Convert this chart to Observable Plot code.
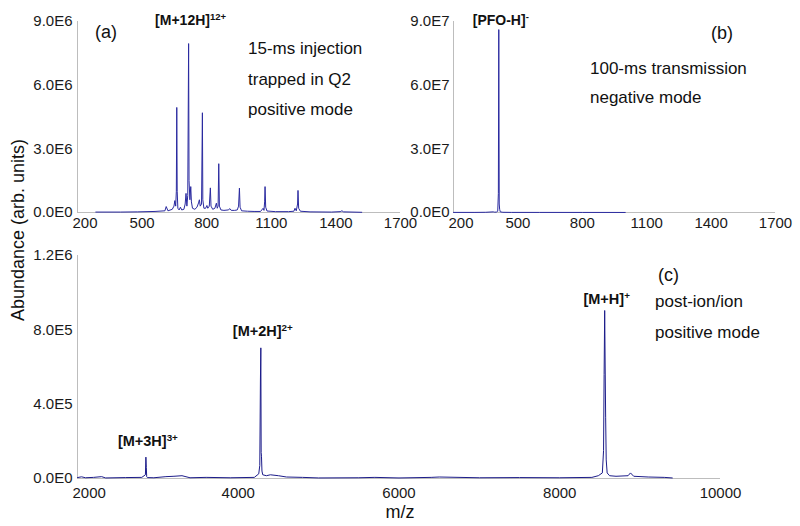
<!DOCTYPE html>
<html><head><meta charset="utf-8">
<script src="https://cdn.jsdelivr.net/npm/d3@7"></script>
<script src="https://cdn.jsdelivr.net/npm/@observablehq/plot@0.6"></script>
<style>
body{margin:0;background:#fff;}
#fig{position:relative;width:800px;height:526px;font-family:"Liberation Sans",Arial,sans-serif;color:#000;overflow:hidden;background:#fff}
.t{position:absolute;white-space:nowrap;line-height:1;font-size:17px;color:#111}
</style></head><body>
<div id="fig"></div>
<script>
// ---------- data ----------
// panel (a): 15-ms injection, positive mode
const mzA = [285,400,480,560,606,612,620,640,648,652,656,659,661,663,666,672,678,684,694,700,704,708,712,716,718,722,726,729,734,745,755,762,766,770,776,780,782,787,795,801,805,812,817,820,828,838,845,849,853,856,859,866,880,900,908,914,930,942,948,952,955,962,990,1020,1050,1062,1066,1069,1071,1074,1080,1120,1180,1205,1210,1216,1222,1224,1227,1235,1280,1380,1420,1428,1436,1520];
const intA = [0.02e6,0.02e6,0.03e6,0.05e6,0.08e6,0.28e6,0.08e6,0.15e6,0.3e6,0.56e6,0.3e6,1.0e6,4.95e6,1.0e6,0.2e6,0.12e6,0.25e6,0.12e6,0.15e6,0.4e6,0.9e6,0.3e6,0.8e6,7.96e6,1.5e6,0.6e6,1.22e6,0.5e6,0.2e6,0.15e6,0.25e6,0.45e6,0.6e6,0.3e6,0.4e6,4.7e6,0.6e6,0.2e6,0.2e6,0.33e6,0.2e6,0.3e6,1.16e6,0.3e6,0.15e6,0.2e6,0.44e6,0.2e6,0.3e6,2.3e6,0.3e6,0.12e6,0.1e6,0.12e6,0.18e6,0.1e6,0.1e6,0.12e6,0.3e6,1.15e6,0.25e6,0.08e6,0.06e6,0.05e6,0.05e6,0.2e6,0.1e6,0.5e6,1.22e6,0.25e6,0.07e6,0.04e6,0.04e6,0.06e6,0.2e6,0.08e6,0.4e6,1.04e6,0.2e6,0.06e6,0.03e6,0.02e6,0.04e6,0.08e6,0.03e6,0.01e6];
const xTicksA = [200,500,800,1100,1400,1700];
const xLabelsA = ["200","500","800","1100","1400","1700"];
const yTicksA = [0,3e6,6e6,9e6];
const yLabelsA = ["0.0E0","3.0E6","6.0E6","9.0E6"];
const peakLabA = ["[M+12H]"], peakSupA = ["12+"], peakXA = [716], peakYA = [9.05e6];

// panel (b): 100-ms transmission, negative mode
const mzB = [200,300,350,385,392,400,406,409,411,413,415,418,430,470,600,800,1000];
const intB = [0.05e6,0.05e6,0.1e6,0.3e6,0.15e6,0.2e6,0.6e6,9e6,86.2e6,4e6,1.5e6,0.3e6,0.1e6,0.05e6,0.04e6,0.03e6,0.02e6];
const xTicksB = [200,500,800,1100,1400,1700];
const xLabelsB = ["200","500","800","1100","1400","1700"];
const yTicksB = [0,3e7,6e7,9e7];
const yLabelsB = ["0.0E0","3.0E7","6.0E7","9.0E7"];
const peakLabB = ["[PFO-H]"], peakSupB = ["-"], peakXB = [411], peakYB = [9.05e7];

// panel (c): post-ion/ion, positive mode
const mzC = [2000,2050,2100,2200,2300,2350,2600,2800,2845,2851,2856,2861,2870,2950,3100,3200,3300,3400,3600,3900,4200,4255,4268,4276,4281,4285,4289,4295,4305,4350,4400,4500,4600,4800,5000,5500,5700,6000,6400,6500,7000,7500,8000,8400,8480,8530,8545,8552,8559,8565,8571,8578,8590,8620,8700,8850,8880,8920,9100,9300,9400];
const intC = [5e3,9e3,4e3,6e3,10e3,3e3,5e3,6e3,20e3,115e3,60e3,10e3,5e3,4e3,10e3,12e3,15e3,4e3,6e3,4e3,6e3,25e3,70e3,530e3,703e3,140e3,120e3,40e3,20e3,15e3,20e3,15e3,8e3,6e3,3e3,4e3,6e3,3e3,6e3,8e3,4e3,5e3,4e3,6e3,15e3,30e3,150e3,560e3,904e3,600e3,330e3,100e3,30e3,15e3,12e3,15e3,30e3,12e3,8e3,6e3,3e3];
const xTicksC = [2000,4000,6000,8000,10000];
const xLabelsC = ["2000","4000","6000","8000","10000"];
const yTicksC = [0,4e5,8e5,1.2e6];
const yLabelsC = ["0.0E0","4.0E5","8.0E5","1.2E6"];
const peakLabC = ["[M+3H]","[M+2H]","[M+H]"], peakSupC = ["3+","2+","+"], peakXC = [2851,4281,8559], peakYC = [1.99e5,7.91e5,9.63e5];

// ---------- drawing ----------
const fig = document.getElementById("fig");
const AXIS = "#bdbdbd";

function panel(o){
  const svg = Plot.plot({
    width:o.w, height:o.h,
    marginLeft:o.ml, marginRight:o.mr, marginTop:o.mt, marginBottom:o.mb,
    style:{fontFamily:"'Liberation Sans', Arial, sans-serif", fontSize:"15px", color:"#1a1a1a", background:"transparent", overflow:"visible"},
    x:{type:"linear", domain:o.xd},
    y:{type:"linear", domain:o.yd},
    marks:[
      Plot.ruleY([o.yd[0]], {stroke:AXIS, strokeWidth:1}),
      Plot.ruleX([o.xd[0]], {stroke:AXIS, strokeWidth:1}),
      Plot.line(d3.range(o.mz.length), {x:i=>o.mz[i], y:i=>o.it[i], stroke:o.color, strokeWidth:1}),
      Plot.axisY({ticks:o.yt, tickFormat:d=>o.yl[o.yt.indexOf(d)], tickSize:0, tickPadding:o.yp, label:null}),
      Plot.axisX({ticks:o.xt.slice(1), tickFormat:d=>o.xl[o.xt.indexOf(d)], tickSize:0, tickPadding:o.xp, label:null}),
      Plot.axisX({ticks:[o.xt[0]], tickFormat:d=>o.xl[0], tickSize:0, tickPadding:o.xp, textAnchor:"start", dx:-5, label:null}),
      Plot.text(d3.range(o.lab.length), {x:i=>o.labX[i], y:i=>o.labY[i], text:i=>o.lab[i], fontWeight:"bold", fontSize:o.lfs, fill:"#111", dx:2})
    ]
  });
  svg.style.position = "absolute";
  svg.style.left = o.left + "px";
  svg.style.top = o.top + "px";
  // superscripts on peak labels
  d3.select(svg).selectAll("text").each(function(){
    const k = o.lab.indexOf(this.textContent);
    if (k >= 0) {
      d3.select(this).append("tspan").attr("dy","-0.5em").attr("font-size", (o.lfs*0.68)+"px").text(o.sup[k]);
    }
  });
  fig.appendChild(svg);
}

panel({left:0, top:0, w:420, h:240, ml:77, mr:20, mt:21, mb:28, xp:5, yp:5, color:"#2a2aa0",
  xd:[200,1700], yd:[0,9e6], mz:mzA, it:intA, xt:xTicksA, xl:xLabelsA, yt:yTicksA, yl:yLabelsA,
  lab:peakLabA, sup:peakSupA, labX:peakXA, labY:peakYA, lfs:14});
panel({left:380, top:0, w:420, h:240, ml:73, mr:25, mt:21, mb:28, xp:5, yp:4, color:"#2a2aa0",
  xd:[200,1700], yd:[0,9e7], mz:mzB, it:intB, xt:xTicksB, xl:xLabelsB, yt:yTicksB, yl:yLabelsB,
  lab:peakLabB, sup:peakSupB, labX:peakXB, labY:peakYB, lfs:14});
panel({left:0, top:240, w:800, h:286, ml:77, mr:80, mt:15, mb:48, xp:9, yp:5, color:"#1c1c8a",
  xd:[2000,10000], yd:[0,1.2e6], mz:mzC, it:intC, xt:xTicksC, xl:xLabelsC, yt:yTicksC, yl:yLabelsC,
  lab:peakLabC, sup:peakSupC, labX:peakXC, labY:peakYC, lfs:14.5});

// panel annotations
const notes = [
  {t:"(a)", x:95, y:22.5, fs:18},
  {t:"15-ms injection", x:248, y:40, fs:17},
  {t:"trapped in Q2", x:248, y:71, fs:17},
  {t:"positive mode", x:248, y:101, fs:17},
  {t:"(b)", x:711, y:23.5, fs:18},
  {t:"100-ms transmission", x:590, y:59.5, fs:17},
  {t:"negative mode", x:590, y:88.5, fs:17},
  {t:"(c)", x:658, y:265.5, fs:18},
  {t:"post-ion/ion", x:655, y:293, fs:17},
  {t:"positive mode", x:655, y:323.5, fs:17}
];
notes.forEach(n=>{
  const d = document.createElement("div");
  d.className = "t"; d.textContent = n.t;
  d.style.left = n.x + "px"; d.style.top = n.y + "px"; d.style.fontSize = n.fs + "px";
  fig.appendChild(d);
});
// axis titles
const yt = document.createElement("div");
yt.className = "t"; yt.textContent = "Abundance (arb. units)";
yt.style.fontSize = "18px"; yt.style.left = "18px"; yt.style.top = "230px";
yt.style.transform = "translate(-50%,-50%) rotate(-90deg)";
fig.appendChild(yt);
const xt = document.createElement("div");
xt.className = "t"; xt.textContent = "m/z";
xt.style.fontSize = "18px"; xt.style.left = "400px"; xt.style.top = "503px";
xt.style.transform = "translateX(-50%)";
fig.appendChild(xt);
</script>
</body></html>
